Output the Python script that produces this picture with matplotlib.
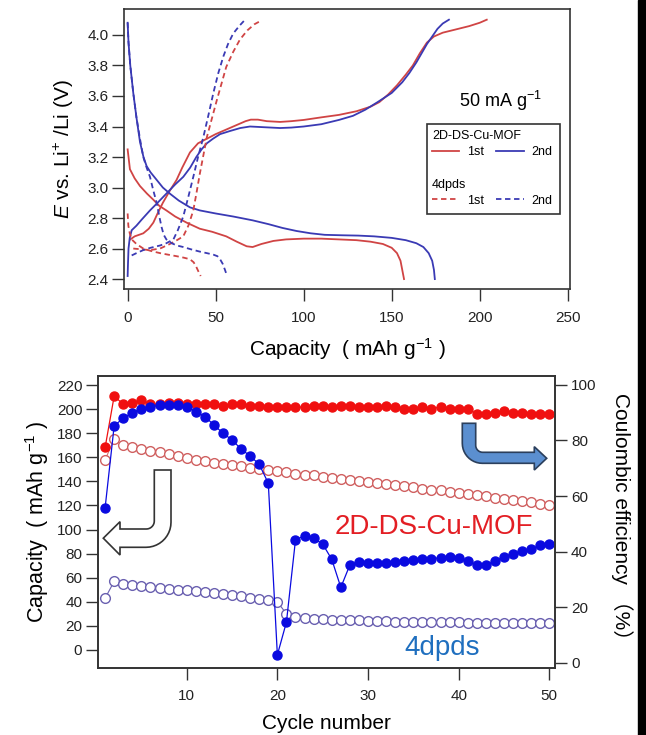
import numpy as np
import matplotlib.pyplot as plt
from matplotlib.patches import Polygon, Rectangle
from matplotlib.lines import Line2D

plt.rcParams['font.family'] = ['Liberation Sans', 'Noto Sans CJK JP', 'DejaVu Sans']
plt.rcParams['mathtext.fontset'] = 'custom'
plt.rcParams['mathtext.rm'] = 'Liberation Sans'
plt.rcParams['mathtext.it'] = 'Liberation Sans:italic'

#%% charge/discharge curves (capacity in mAh/g, E in V)
mof1_dis_cap = [0, 1.3, 4, 7, 11, 14.6, 18, 22, 27, 33.5, 41, 48, 56, 62, 67.6, 71, 76, 82.8,
                90, 100, 110, 120, 130, 138, 145, 150, 153, 155, 156, 157]
mof1_dis_v = [3.25, 3.12, 3.06, 3.01, 2.96, 2.92, 2.88, 2.85, 2.81, 2.77, 2.73, 2.71, 2.68, 2.645,
              2.615, 2.61, 2.63, 2.65, 2.66, 2.665, 2.665, 2.66, 2.655, 2.645, 2.63, 2.605, 2.57,
              2.52, 2.46, 2.40]
mof1_chg_cap = [1.5, 4, 8.9, 12, 14.6, 17, 20, 24, 27.8, 31, 35.4, 40, 45, 50, 56, 62, 67, 70, 74,
                79, 86.6, 93, 100, 110, 120, 130, 138, 143, 148, 153, 158, 162, 166, 170, 174, 179,
                186, 194, 200, 204]
mof1_chg_v = [2.66, 2.68, 2.70, 2.73, 2.77, 2.83, 2.90, 2.98, 3.05, 3.13, 3.23, 3.29, 3.32, 3.35,
              3.38, 3.41, 3.435, 3.445, 3.445, 3.435, 3.43, 3.435, 3.443, 3.46, 3.476, 3.50, 3.53,
              3.56, 3.61, 3.67, 3.74, 3.80, 3.88, 3.95, 3.99, 4.015, 4.035, 4.058, 4.08, 4.10]
mof2_dis_cap = [0, 0.5, 1.5, 3.2, 5, 7, 9, 10.8, 13, 16.5, 20, 24, 29, 35.4, 41, 50, 60, 71, 80,
                88, 96, 104, 112, 122, 131, 140, 150, 158, 164, 168, 171, 173, 174, 174.5]
mof2_dis_v = [4.08, 3.95, 3.80, 3.62, 3.46, 3.30, 3.20, 3.14, 3.10, 3.05, 3.00, 2.96, 2.915, 2.87,
              2.85, 2.83, 2.81, 2.785, 2.76, 2.735, 2.715, 2.70, 2.69, 2.687, 2.685, 2.68, 2.67,
              2.655, 2.635, 2.61, 2.57, 2.52, 2.46, 2.40]
mof2_chg_cap = [0, 0.2, 0.5, 1.2, 2.3, 5, 8, 12.7, 17, 22, 27, 31.6, 35.5, 39, 42, 45, 48.5, 52.5,
                58, 64, 69.5, 78, 86.6, 93, 100, 110, 120, 128, 135, 142, 150, 156, 160, 164, 167,
                170, 173, 176, 179, 182.5]
mof2_chg_v = [2.42, 2.50, 2.60, 2.67, 2.72, 2.75, 2.79, 2.85, 2.90, 2.96, 3.02, 3.07, 3.13, 3.20,
              3.25, 3.29, 3.32, 3.35, 3.37, 3.39, 3.40, 3.395, 3.39, 3.393, 3.40, 3.415, 3.443,
              3.47, 3.51, 3.56, 3.62, 3.69, 3.75, 3.82, 3.88, 3.94, 3.99, 4.04, 4.075, 4.10]

dp1_dis_cap = [0, 0.4, 1.2, 2.3, 5, 8.9, 13, 18.4, 23, 27.8, 32, 35.4, 37.5, 39, 40.2, 41.5]
dp1_dis_v = [2.83, 2.75, 2.70, 2.66, 2.63, 2.60, 2.585, 2.57, 2.56, 2.55, 2.54, 2.53, 2.51, 2.48,
             2.45, 2.42]
dp1_chg_cap = [3.2, 8, 12.7, 18.4, 24, 28, 31.6, 34.5, 37.3, 39.2, 41, 43, 45, 47.8, 50.6, 53.3,
               56, 60, 63.8, 68, 72, 75.2]
dp1_chg_v = [2.60, 2.595, 2.59, 2.60, 2.63, 2.655, 2.68, 2.75, 2.85, 2.97, 3.09, 3.21, 3.33, 3.45,
             3.57, 3.68, 3.79, 3.89, 3.97, 4.03, 4.07, 4.09]
dp2_dis_cap = [0, 0.5, 1.5, 3.2, 5, 7, 8.9, 10.8, 12.7, 14.6, 16.5, 18, 19.3, 20.5, 22, 25, 28,
               31.6, 36, 41, 45, 48.7, 51, 52.5, 54, 55.3, 56.5]
dp2_dis_v = [4.08, 3.95, 3.80, 3.62, 3.46, 3.32, 3.20, 3.13, 3.07, 2.98, 2.90, 2.81, 2.74, 2.69,
             2.66, 2.635, 2.62, 2.61, 2.595, 2.58, 2.57, 2.56, 2.55, 2.53, 2.50, 2.46, 2.42]
dp2_chg_cap = [2.3, 5, 8.9, 13, 18.4, 22, 26, 28.5, 31.6, 34.5, 37.3, 40, 43, 46, 48.7, 51.5, 54.4,
               57, 60, 63.5, 66.7]
dp2_chg_v = [2.555, 2.57, 2.59, 2.605, 2.62, 2.635, 2.66, 2.72, 2.81, 2.94, 3.07, 3.20, 3.33, 3.48,
             3.62, 3.75, 3.86, 3.94, 4.01, 4.06, 4.10]

#%% cycling data
cycles = np.arange(1, 51)
mof_capacity = [158, 175, 170, 168.5, 167, 165.5, 164, 162.5, 161, 159.5, 158, 157, 155.5, 154.5,
                153.5, 152.5, 151.5, 150.5, 149.5, 148.5, 147.5, 146.5, 145.5, 145, 144, 143, 142,
                141.5, 140.5, 139.5, 138.5, 137.5, 137, 136, 135, 134, 133, 132.5, 131.5, 130.5,
                129.5, 128.5, 127.5, 126.5, 125.5, 124.5, 123.5, 122.5, 121, 120]
dpds_capacity = [43, 57, 55, 54, 53, 52, 51.5, 51, 50, 49.5, 49, 48, 47.5, 46.5, 45.5, 44.5, 43.5,
                 42.5, 41.5, 40, 30, 27, 26.5, 26, 25.5, 25, 25, 24.5, 24.5, 24, 24, 24, 23.5, 23.5,
                 23.5, 23, 23, 23, 23, 23, 22.5, 22.5, 22.5, 22.5, 22.5, 22.5, 22, 22, 22, 22]
mof_ce = [77.5, 96, 93, 93.5, 94.5, 93, 93, 93.5, 93.5, 93, 93, 93, 93, 92.5, 93, 93, 92.5, 92.5,
          92, 92, 92, 92, 92, 92.5, 92.5, 92, 92.5, 92.5, 92, 92, 92, 92.5, 92, 91.5, 91.5, 92,
          91.5, 92, 91.5, 91.5, 91.5, 89.5, 89.5, 90, 90.5, 90, 90, 89.5, 89.5, 89.5]
dpds_ce = [55.8, 85.3, 88.0, 90.0, 91.5, 92.2, 92.6, 92.6, 92.6, 92.2, 90.4, 88.6, 85.6, 82.6,
           80.2, 76.9, 74.4, 71.4, 64.6, 2.8, 14.6, 44.2, 45.7, 44.8, 42.7, 37.2, 27.1, 35.2,
           36.4, 36.0, 35.8, 36.0, 36.2, 36.6, 36.8, 37.2, 37.4, 37.8, 38.2, 37.8, 36.6, 35.2,
           35.2, 36.6, 38.2, 39.1, 40.3, 41.0, 42.2, 42.6]

RED = '#d04444'
BLUE = '#3a3ab4'
W, H = 646, 735


def px_poly(pts):
    return [(x / W, 1 - y / H) for x, y in pts]


def arc(cx, cy, r, a0, a1, n=12):
    t = np.radians(np.linspace(a0, a1, n))
    return list(zip(cx + r * np.cos(t), cy + r * np.sin(t)))


def style_axes(a):
    a.tick_params(direction='out', length=8.5, width=1, labelsize=11, color='#333333',
                  labelcolor='#222222', pad=3)
    a.tick_params(axis='x', pad=7)
    for s in a.spines.values():
        s.set_linewidth(1.2)
        s.set_color('#333333')


def main():
    fig = plt.figure(figsize=(6.46, 7.35), dpi=100)

    #%% top panel
    ax = fig.add_axes([0.1924, 0.6064, 0.690, 0.3807])
    ax.plot(mof1_dis_cap, mof1_dis_v, color=RED, lw=1.3)
    ax.plot(mof1_chg_cap, mof1_chg_v, color=RED, lw=1.3)
    ax.plot(mof2_dis_cap, mof2_dis_v, color=BLUE, lw=1.3)
    ax.plot(mof2_chg_cap, mof2_chg_v, color=BLUE, lw=1.3)
    ds = (0, (3, 2))
    ax.plot(dp1_dis_cap, dp1_dis_v, color=RED, lw=1.3, ls=ds)
    ax.plot(dp1_chg_cap, dp1_chg_v, color=RED, lw=1.3, ls=ds)
    ax.plot(dp2_dis_cap, dp2_dis_v, color=BLUE, lw=1.3, ls=ds)
    ax.plot(dp2_chg_cap, dp2_chg_v, color=BLUE, lw=1.3, ls=ds)

    ax.set_xlim(-1.9, 251.3)
    ax.set_ylim(2.333, 4.167)
    ax.set_xticks([0, 50, 100, 150, 200, 250])
    ax.set_yticks(np.arange(2.4, 4.01, 0.2))
    ax.set_yticklabels([f'{v:.1f}' for v in np.arange(2.4, 4.01, 0.2)])
    style_axes(ax)
    ax.set_xlabel('Capacity  ( mAh g$^{-1}$ )', fontsize=15, labelpad=8)
    ax.set_ylabel('$E$ vs. Li$^{+}$ /Li (V)', fontsize=15, labelpad=8)
    ax.text(0.843, 0.674, '50 mA g$^{-1}$', transform=ax.transAxes, fontsize=13,
            ha='center', va='center')

    h1 = [Line2D([], [], color=RED, lw=1.3), Line2D([], [], color=BLUE, lw=1.3)]
    h2 = [Line2D([], [], color=RED, lw=1.3, ls=ds), Line2D([], [], color=BLUE, lw=1.3, ls=ds)]
    kw = dict(ncol=2, fontsize=9, title_fontsize=9, handlelength=2.2, handletextpad=0.6,
              columnspacing=1.0, borderpad=0, borderaxespad=0, labelspacing=0.3,
              frameon=False, alignment='left', loc='upper left')
    leg1 = ax.legend(h1, ['1st', '2nd'], title='2D-DS-Cu-MOF',
                     bbox_to_anchor=(0.690, 0.568), **kw)
    ax.add_artist(leg1)
    ax.legend(h2, ['1st', '2nd'], title='4dpds', bbox_to_anchor=(0.690, 0.395), **kw)
    ax.add_patch(Rectangle((0.679, 0.269), 0.299, 0.323, transform=ax.transAxes,
                           fill=False, ec='#333333', lw=1.2))

    #%% bottom panel
    ax2 = fig.add_axes([0.1522, 0.0916, 0.707, 0.3968])
    ax3 = ax2.twinx()
    ax2.plot(cycles, mof_capacity, 'o-', color='#d87070', mfc='white', mec='#d06060',
             ms=7, mew=1.0, lw=0.8)
    ax2.plot(cycles, dpds_capacity, 'o-', color='#6a60b0', mfc='white', mec='#6a60b0',
             ms=7, mew=1.0, lw=0.8)
    ax3.plot(cycles, mof_ce, 'o-', color='#f01010', mec='#f01010', ms=6.5, lw=0.9)
    ax3.plot(cycles, dpds_ce, 'o-', color='#0a0ae0', mec='#0a0ae0', ms=6.5, lw=0.9)

    ax2.set_xlim(0.25, 50.63)
    ax2.set_ylim(-14.7, 227.5)
    ax3.set_ylim(-1.8, 103.2)
    ax2.set_xticks([10, 20, 30, 40, 50])
    ax2.set_yticks(np.arange(0, 221, 20))
    ax3.set_yticks(np.arange(0, 101, 20))
    style_axes(ax2)
    style_axes(ax3)
    ax2.set_xlabel('Cycle number', fontsize=15, labelpad=8)
    ax2.set_ylabel('Capacity  ( mAh g$^{-1}$ )', fontsize=15.5, labelpad=4)
    ax3.set_ylabel('Coulombic efficiency \uff08%\uff09', fontsize=15, rotation=270,
                   labelpad=26)

    ax2.text(0.734, 0.483, '2D-DS-Cu-MOF', transform=ax2.transAxes, fontsize=20,
             color='#e31e24', ha='center', va='center', zorder=5)
    ax2.text(0.7526, 0.0675, '4dpds', transform=ax2.transAxes, fontsize=20,
             color='#1f6fbf', ha='center', va='center', zorder=5)

    # guide arrows
    left_arrow = ([(154.3, 470), (171, 470)] + arc(146, 522.3, 25, 0, 90)
                  + [(120, 547.3), (120, 555), (103.3, 538.2), (120, 521.7), (120, 529)]
                  + arc(146.3, 521, 8, 90, 0))
    fig.add_artist(Polygon(px_poly(left_arrow), closed=True, transform=fig.transFigure,
                           fc='white', ec='#333333', lw=1.2, zorder=10))
    right_arrow = ([(462.3, 423.3), (475.7, 423.3)] + arc(482.7, 445.3, 7, 180, 90)
                   + [(534.3, 452.3), (534.3, 446.7), (546.7, 458.3), (534.3, 470),
                      (534.3, 463.3)] + arc(482.3, 443.3, 20, 90, 180))
    fig.add_artist(Polygon(px_poly(right_arrow), closed=True, transform=fig.transFigure,
                           fc='#5b8fd0', ec='#2b3f5c', lw=1.2, zorder=10))

    # dark strip on the right edge
    fig.add_artist(Rectangle((638 / W, 0), 8 / W, 1, transform=fig.transFigure,
                             color='black', zorder=20))

    fig.savefig('out.png', dpi=100)


if __name__ == '__main__':
    main()
